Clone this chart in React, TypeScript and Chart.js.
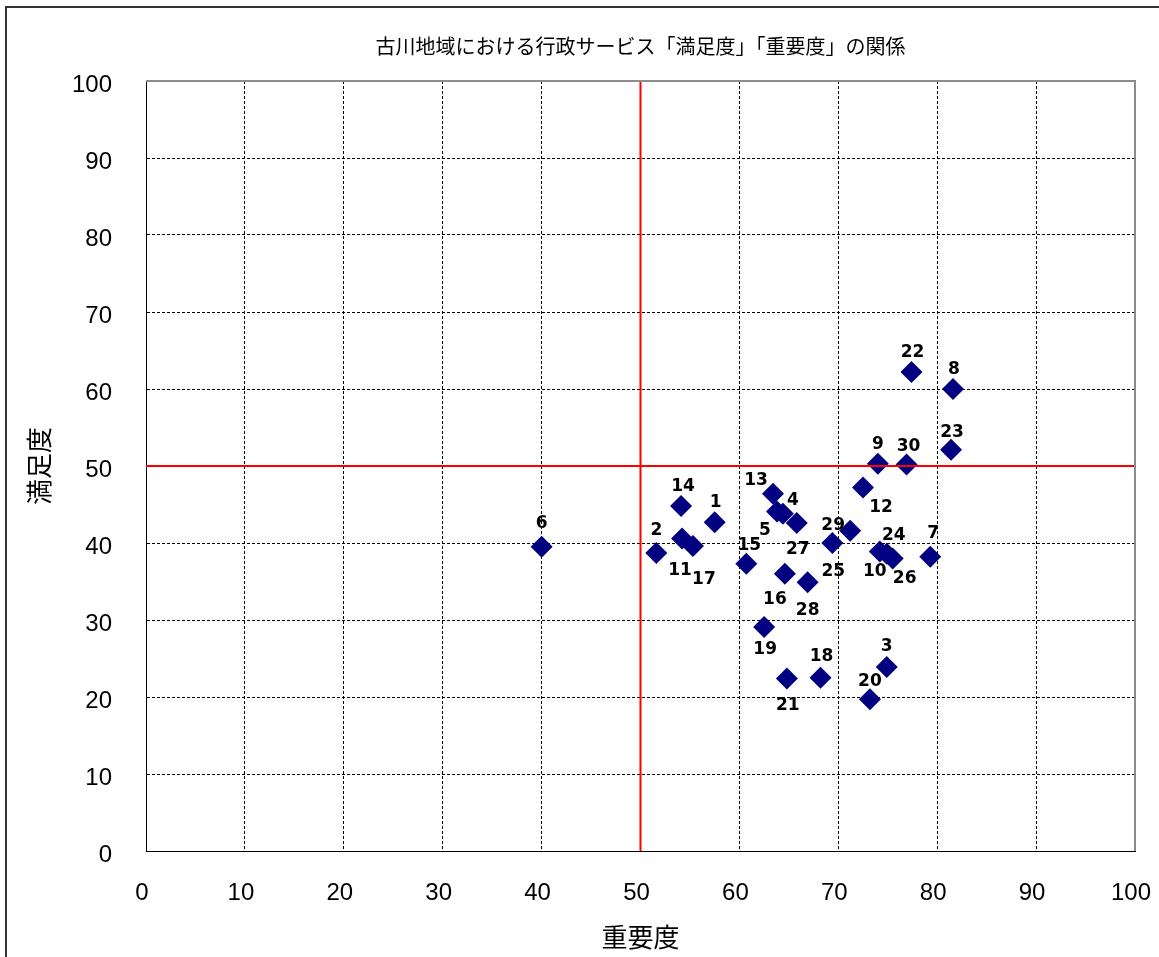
import React, { useEffect, useRef } from "react";
import { Chart, registerables } from "chart.js";

Chart.register(...registerables);

// ---- Data ----
const itemNumbers = [
  1, 2, 3, 4, 5, 6, 7, 8, 9, 10,
  11, 12, 13, 14, 15, 16, 17, 18, 19, 20,
  21, 22, 23, 24, 25, 26, 27, 28, 29, 30,
];
// 重要度 (x)
const importance = [
  57.5, 51.6, 74.9, 64.4, 63.8, 40.0, 79.3, 81.6, 74.0, 74.2,
  54.2, 72.5, 63.4, 54.1, 60.7, 64.6, 55.3, 68.2, 62.5, 73.2,
  64.8, 77.4, 81.4, 74.9, 69.4, 75.5, 65.8, 66.9, 71.2, 76.9,
];
// 満足度 (y)
const satisfaction = [
  42.7, 38.7, 23.9, 43.8, 44.1, 39.5, 38.2, 60.0, 50.3, 38.9,
  40.6, 47.2, 46.4, 44.8, 37.3, 36.0, 39.6, 22.5, 29.1, 19.7,
  22.4, 62.2, 52.1, 38.6, 40.0, 38.0, 42.6, 34.9, 41.6, 50.2,
];
const thresholdImportance = 50;
const thresholdSatisfaction = 50;
const axisMin = 0;
const axisMax = 100;
const axisStep = 10;

const chartTitle = "古川地域における行政サービス「満足度」「重要度」の関係";
const xAxisTitle = "重要度";
const yAxisTitle = "満足度";

// ---- Styling: label offsets in pixels (dx, dy) relative to each point ----
const labelOffsets: [number, number][] = [
  [1, -20], [0, -22], [0, -20], [10, -13], [-12, 19], [0, -23], [3, -23], [1, -19], [0, -19], [-5, 20],
  [-2, 32], [18, 20], [-17, -13], [2, -19], [3, -18], [-10, 26], [11, 33], [1, -21], [1, 23], [0, -18],
  [1, 27], [1, -19], [1, -17], [7, -18], [1, 29], [12, 20], [1, 27], [0, 28], [-17, -5], [2, -18],
];

const W = 1159;
const H = 957;

const framePlugin = {
  id: "frame",
  beforeDraw(chart: any) {
    const ctx = chart.ctx;
    ctx.save();
    ctx.fillStyle = "#ffffff";
    ctx.fillRect(0, 0, chart.width, chart.height);
    ctx.fillStyle = "#333333";
    ctx.fillRect(5, 6, 2, chart.height - 6);
    ctx.fillRect(5, 6, chart.width - 5, 2);
    ctx.restore();
  },
  afterDraw(chart: any) {
    const { ctx, chartArea } = chart;
    ctx.save();
    ctx.strokeStyle = "#8c8c8c";
    ctx.lineWidth = 2;
    ctx.beginPath();
    ctx.moveTo(chartArea.left, chartArea.top);
    ctx.lineTo(chartArea.right, chartArea.top);
    ctx.lineTo(chartArea.right, chartArea.bottom);
    ctx.stroke();
    ctx.restore();
  },
};

const pointLabelPlugin = {
  id: "pointLabels",
  afterDatasetsDraw(chart: any) {
    const idx = chart.data.datasets.findIndex((d: any) => d.id === "items");
    if (idx < 0) return;
    const meta = chart.getDatasetMeta(idx);
    const ctx = chart.ctx;
    ctx.save();
    ctx.font = "bold 17px 'DejaVu Sans', sans-serif";
    ctx.fillStyle = "#000000";
    ctx.textAlign = "center";
    ctx.textBaseline = "middle";
    meta.data.forEach((el: any, i: number) => {
      const [dx, dy] = labelOffsets[i] || [0, -20];
      ctx.fillText(String(itemNumbers[i]), el.x + dx, el.y + dy);
    });
    ctx.restore();
  },
};

export default function App() {
  const canvasRef = useRef<HTMLCanvasElement | null>(null);

  useEffect(() => {
    document.body.style.margin = "0";
    document.body.style.overflow = "hidden";
    const canvas = canvasRef.current;
    if (!canvas) return;

    const points = importance.map((x, i) => ({ x, y: satisfaction[i] }));
    const tickFont = { family: "'Liberation Sans', Arial, sans-serif", size: 24 };
    const titleFont = { family: "'Noto Sans CJK JP', sans-serif", size: 26 };

    const chart = new Chart(canvas, {
      type: "scatter",
      data: {
        datasets: [
          {
            id: "vline",
            data: [
              { x: thresholdImportance, y: axisMin },
              { x: thresholdImportance, y: axisMax },
            ],
            showLine: true,
            borderColor: "#ff0000",
            borderWidth: 2,
            pointRadius: 0,
            order: 0,
          } as any,
          {
            id: "hline",
            data: [
              { x: axisMin, y: thresholdSatisfaction },
              { x: axisMax, y: thresholdSatisfaction },
            ],
            showLine: true,
            borderColor: "#ff0000",
            borderWidth: 2,
            pointRadius: 0,
            order: 0,
          } as any,
          {
            id: "items",
            data: points,
            pointStyle: "rectRot",
            pointRadius: 11,
            pointHoverRadius: 11,
            backgroundColor: "#000080",
            borderColor: "#000080",
            borderWidth: 0,
            order: 1,
          } as any,
        ],
      },
      options: {
        animation: false,
        responsive: false,
        maintainAspectRatio: false,
        devicePixelRatio: 1,
        layout: { padding: { left: 0, right: 24, top: 0, bottom: 0 } },
        plugins: {
          legend: { display: false },
          tooltip: { enabled: false },
          title: {
            display: true,
            text: chartTitle,
            fullSize: false,
            color: "#000000",
            font: { family: "'Noto Sans CJK JP', sans-serif", size: 20, weight: "normal" },
            padding: { top: 34, bottom: 23 },
          },
        },
        scales: {
          x: {
            type: "linear",
            min: axisMin,
            max: axisMax,
            ticks: {
              stepSize: axisStep,
              font: tickFont,
              color: "#000000",
              padding: 28,
              labelOffset: -4,
            },
            grid: { color: "#000000", lineWidth: 1, drawTicks: false },
            border: { display: true, color: "#000000", width: 1, dash: [3, 2] },
            title: {
              display: true,
              text: xAxisTitle,
              color: "#000000",
              font: titleFont,
              padding: { top: 0, bottom: 4 },
            },
            afterFit(scale: any) {
              scale.height = H - 851;
              scale.paddingLeft = 0;
              scale.paddingRight = 0;
            },
          },
          y: {
            type: "linear",
            min: axisMin,
            max: axisMax,
            ticks: {
              stepSize: axisStep,
              font: tickFont,
              color: "#000000",
              padding: 34,
              labelOffset: 4,
            },
            grid: { color: "#000000", lineWidth: 1, drawTicks: false },
            border: { display: true, color: "#000000", width: 1, dash: [3, 2] },
            title: {
              display: true,
              text: yAxisTitle,
              color: "#000000",
              font: titleFont,
              padding: { top: 24, bottom: 0 },
            },
            afterFit(scale: any) {
              scale.width = 146;
              scale.paddingTop = 0;
              scale.paddingBottom = 0;
            },
          },
        },
      } as any,
      plugins: [framePlugin, pointLabelPlugin],
    });

    return () => {
      chart.destroy();
    };
  }, []);

  return (
    <canvas
      ref={canvasRef}
      width={W}
      height={H}
      style={{ display: "block", width: W + "px", height: H + "px" }}
    />
  );
}
